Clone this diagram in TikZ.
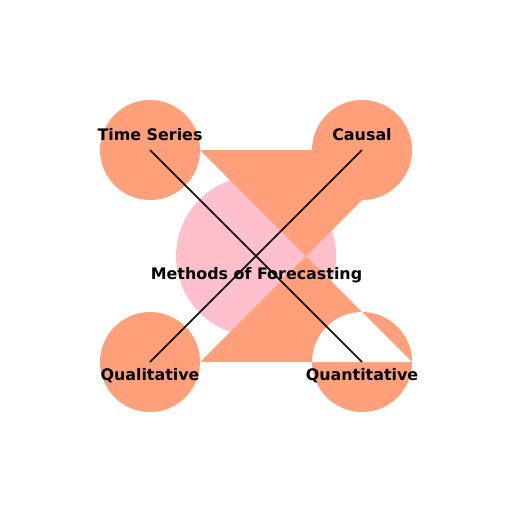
\documentclass[tikz,border=0pt]{standalone}
\usepackage{fontspec}
\usepackage{tikz}
\setmainfont{DejaVu Sans}
\usetikzlibrary{positioning}
\tikzset{blob/.style = {fill = lsalmon, circle, inner sep = 0, minimum size = 2cm}}
\tikzset{lbl/.style = {anchor = base, inner sep = 0, font = \fontsize{9.05}{11}\selectfont\bfseries}}
\tikzset{link/.style = {black, line width = 0.85pt}}
\definecolor{lsalmon}{rgb}{1.0, 0.627, 0.478}
\definecolor{mpink}{rgb}{1.0, 0.753, 0.796}

\begin{document}
\begin{tikzpicture}[x=0.02cm, y=-0.02cm]
      \useasboundingbox (0, 0) rectangle (512, 512);
      \node [fill = mpink, circle, inner sep = 0, minimum size = 3.2cm] (core) at (256, 256) {};

      \fill [lsalmon] (200, 150) -- (412, 150) -- (306, 256) -- cycle;
      \fill [lsalmon] (306, 256) -- (200, 362) -- (412, 362) -- cycle;

      \node [blob] (series) at (150, 150) {};
      \node [blob] (causal) at (362, 150) {};
      \node [blob] (qual) at (150, 362) {};
      \node [blob] (quant) at (362, 362) {};

      \begin{scope}
        \clip (quant.center) circle [radius = 1cm];
        \fill [white] (306, 256) -- (200, 362) -- (412, 362) -- cycle;
      \end{scope}

      \draw [link] (series.center) -- (quant.center);
      \draw [link] (causal.center) -- (qual.center);

      \node [lbl] at (150, 140) {Time Series};
      \node [lbl] at (362, 140) {Causal};
      \node [lbl] at (150, 380) {Qualitative};
      \node [lbl] at (362, 380) {Quantitative};
      \node [lbl] at (256.5, 279) {Methods of Forecasting};
    \end{tikzpicture}
\end{document}
